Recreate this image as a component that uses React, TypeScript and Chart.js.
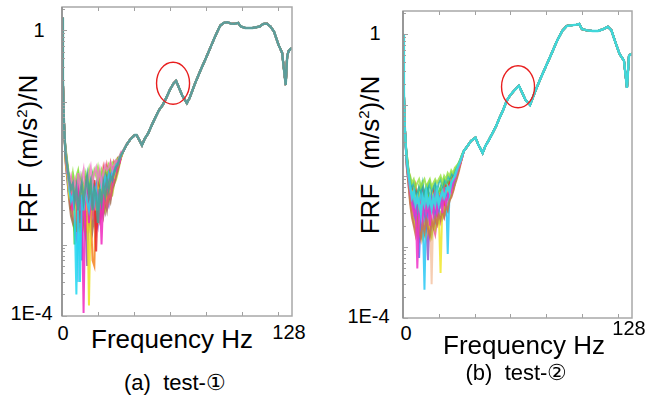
import React, { useEffect, useRef } from "react";
import { Chart, registerables } from "chart.js";

Chart.register(...registerables);

// ---------- data ----------
const HEAD_F = [0, 0.5, 1, 1.5];
const NOISE_F = [2, 3, 4, 5, 6, 7, 8, 9, 10, 11, 12, 13, 14, 15, 16, 17, 18, 19, 20, 21, 22, 23, 24, 25, 26, 27, 28, 29, 30, 31, 32, 33];

const HEAD_A = [1.5, 0.2, 0.06, 0.03];
const HEAD_B = [1.0, 0.15, 0.05, 0.028];

const TAIL_F_A = [34, 36, 38, 40.5, 41.5, 43, 44.5, 46, 48, 50, 52, 54, 56, 58, 60, 62, 63.5, 65, 67, 69.5, 71, 74, 77, 80, 83, 85, 88, 90, 92, 94, 96, 98, 99.5, 102, 106, 110, 112, 114, 116, 118, 120.5, 122.5, 124.5, 125.3, 126, 127, 128];
const TAIL_A = [0.020, 0.025, 0.0295, 0.034, 0.034, 0.029, 0.0245, 0.030, 0.036, 0.047, 0.060, 0.076, 0.089, 0.112, 0.145, 0.178, 0.195, 0.158, 0.120, 0.095, 0.112, 0.178, 0.27, 0.40, 0.60, 0.79, 1.15, 1.26, 1.29, 1.23, 1.22, 1.26, 1.12, 1.07, 1.07, 1.12, 1.22, 1.23, 1.12, 0.95, 0.62, 0.48, 0.17, 0.42, 0.50, 0.54, 0.56];

const TAIL_F_B = [34, 36, 38, 40.5, 42, 44.5, 46, 48, 50, 52, 54, 56, 58, 60, 62, 64.8, 66.5, 68.5, 71, 74, 77, 80, 83, 86, 89, 91.5, 94, 97, 98.5, 100, 103, 106, 109, 112, 114.5, 116.5, 118.5, 121, 123.5, 125.2, 126.3, 127, 128];
const TAIL_B = [0.0224, 0.0263, 0.031, 0.0347, 0.028, 0.021, 0.0263, 0.032, 0.040, 0.050, 0.066, 0.085, 0.115, 0.138, 0.158, 0.186, 0.151, 0.117, 0.100, 0.158, 0.24, 0.355, 0.525, 0.79, 1.10, 1.29, 1.32, 1.35, 1.38, 1.17, 1.12, 1.10, 1.10, 1.17, 1.26, 1.12, 0.79, 0.525, 0.42, 0.174, 0.49, 0.51, 0.525];

// test-1 low-frequency scatter (f = 2..33 Hz), one array per measurement
const A_TEAL = [1.8e-2, 1.2e-2, 8e-3, 6e-3, 7e-3, 4e-3, 6e-3, 3e-3, 5e-3, 7e-3, 4e-3, 6e-3, 9e-3, 5e-3, 7e-3, 3e-3, 6e-3, 5e-3, 2e-3, 6e-3, 4e-3, 7e-3, 5e-3, 8e-3, 6e-3, 9e-3, 8e-3, 1.0e-2, 1.2e-2, 1.3e-2, 1.6e-2, 1.8e-2];
const A_CYAN = [2.0e-2, 1.2e-2, 6e-3, 4e-3, 5e-3, 3e-3, 2e-4, 4e-3, 3e-4, 5e-3, 3e-3, 6e-3, 4e-3, 3e-3, 5e-3, 7e-3, 4e-3, 6e-3, 3e-3, 5e-3, 8e-3, 6e-3, 9e-3, 7e-3, 1.0e-2, 8e-3, 1.1e-2, 1.0e-2, 1.3e-2, 1.4e-2, 1.6e-2, 1.8e-2];
const A_MAGENTA = [1.8e-2, 1.0e-2, 8e-3, 5e-3, 3e-3, 6e-3, 4e-3, 7e-3, 3e-3, 5e-3, 1.1e-4, 4e-3, 6e-3, 2e-3, 4e-3, 5e-3, 3e-3, 7e-3, 4e-3, 6e-3, 1.0e-3, 5e-3, 8e-3, 6e-3, 9e-3, 1.1e-2, 8e-3, 1.2e-2, 1.1e-2, 1.5e-2, 1.4e-2, 1.8e-2];
const A_YELLOW = [1.5e-2, 9e-3, 5e-3, 7e-3, 4e-3, 2.5e-3, 5e-3, 3e-3, 6e-3, 4e-3, 7e-3, 3e-3, 5e-3, 1.4e-4, 4e-3, 6e-3, 5e-3, 3e-3, 6e-3, 4e-3, 7e-3, 5e-3, 6e-3, 8e-3, 7e-3, 9e-3, 1.0e-2, 9e-3, 1.2e-2, 1.3e-2, 1.5e-2, 1.7e-2];
const A_RED = [2.2e-2, 1.3e-2, 7e-3, 4e-3, 6e-3, 3.5e-3, 8e-3, 5e-3, 2e-3, 7e-3, 4e-3, 9e-3, 5e-3, 3e-3, 6e-3, 4e-3, 8e-3, 8e-4, 5e-3, 9e-3, 6e-3, 1.1e-2, 7e-3, 1.2e-2, 8e-3, 1.3e-2, 9e-3, 1.4e-2, 1.2e-2, 1.6e-2, 1.5e-2, 1.9e-2];
const A_GREEN = [1.9e-2, 1.1e-2, 9e-3, 6e-3, 8e-3, 1.0e-3, 6e-3, 9e-3, 5e-3, 3e-3, 6e-3, 8e-3, 4e-3, 7e-3, 5e-3, 9e-3, 6e-3, 4e-3, 8e-3, 5e-3, 9e-3, 7e-3, 1.0e-2, 6e-3, 1.1e-2, 9e-3, 1.2e-2, 1.1e-2, 1.4e-2, 1.3e-2, 1.7e-2, 1.9e-2];
const A_ORANGE = [1.7e-2, 1.0e-2, 6e-3, 3e-3, 5e-3, 7e-3, 4e-3, 2.5e-3, 6e-3, 3.5e-3, 5e-3, 2e-3, 6e-3, 4e-3, 3e-3, 6e-4, 5e-4, 6e-3, 3e-3, 7e-3, 4e-3, 6e-3, 3.5e-3, 8e-3, 5e-3, 7e-3, 9e-3, 8e-3, 1.1e-2, 1.2e-2, 1.4e-2, 1.7e-2];
const A_BLUE = [2.1e-2, 1.2e-2, 8e-3, 5e-3, 3e-3, 5e-3, 7e-3, 4e-3, 6e-3, 6e-4, 5e-3, 7e-3, 3e-3, 6e-3, 8e-3, 4e-3, 6e-3, 5e-3, 7e-3, 3.5e-3, 6e-3, 8e-3, 5e-3, 9e-3, 6e-3, 1.0e-2, 8e-3, 1.1e-2, 1.3e-2, 1.2e-2, 1.6e-2, 1.8e-2];
const A_PURPLE = [1.6e-2, 1.1e-2, 7e-3, 8e-3, 4e-3, 6e-3, 3e-3, 5e-3, 8e-3, 4e-3, 6e-3, 3e-3, 5e-4, 5e-3, 7e-3, 3e-3, 5e-3, 7e-3, 4e-3, 6e-3, 5e-3, 3e-3, 7e-3, 5e-3, 8e-3, 6e-3, 1.0e-2, 1.2e-2, 1.0e-2, 1.4e-2, 1.5e-2, 1.8e-2];
const A_LIME = [2.3e-2, 1.4e-2, 9e-3, 7e-3, 1.0e-2, 6e-3, 9e-3, 1.1e-2, 7e-3, 9e-3, 5e-3, 1.0e-2, 8e-3, 1.1e-2, 6e-3, 8e-3, 1.1e-2, 9e-3, 1.2e-2, 8e-3, 1.1e-2, 9e-3, 1.2e-2, 1.0e-2, 1.3e-2, 1.1e-2, 1.4e-2, 1.3e-2, 1.5e-2, 1.6e-2, 1.7e-2, 1.9e-2];
const A_PINK = [2.0e-2, 1.1e-2, 7e-3, 9e-3, 6e-3, 8e-3, 5e-3, 1.0e-2, 6e-3, 8e-3, 1.1e-2, 5e-3, 7e-3, 9e-3, 1.2e-2, 7e-3, 1.0e-2, 1.2e-2, 8e-3, 1.1e-2, 7e-3, 1.0e-2, 1.3e-2, 1.1e-2, 1.2e-2, 1.4e-2, 1.1e-2, 1.3e-2, 1.5e-2, 1.4e-2, 1.7e-2, 2.0e-2];
const A_SKY = [1.7e-2, 1.0e-2, 5e-3, 4e-3, 6e-3, 3e-3, 2.5e-3, 3e-4, 4e-3, 5e-3, 3e-3, 5e-3, 3.5e-3, 6e-3, 4e-3, 5e-3, 3e-3, 4.5e-3, 6e-3, 3e-3, 5e-3, 4e-3, 6e-3, 4e-3, 7e-3, 6e-3, 8e-3, 9e-3, 1.1e-2, 1.2e-2, 1.5e-2, 1.8e-2];
const A_BROWN = [1.4e-2, 8e-3, 4e-3, 2.5e-3, 2e-3, 3e-3, 1.5e-3, 2.5e-3, 1.8e-3, 3e-3, 2e-3, 1.4e-3, 2.5e-3, 2e-3, 3e-3, 1.6e-3, 2.5e-3, 2e-3, 3e-3, 2.2e-3, 3.5e-3, 2.5e-3, 4e-3, 3e-3, 5e-3, 4e-3, 6e-3, 7e-3, 9e-3, 1.1e-2, 1.4e-2, 1.7e-2];
const A_OLIVE = [1.6e-2, 9e-3, 5e-3, 3e-3, 2.2e-3, 1.6e-3, 2.8e-3, 2e-3, 1.5e-3, 2.5e-3, 1.8e-3, 3e-3, 2.2e-3, 1.7e-3, 2.6e-3, 3.2e-3, 2e-3, 2.8e-3, 2.2e-3, 3.5e-3, 2.6e-3, 4e-3, 3e-3, 4.5e-3, 4e-3, 5.5e-3, 5e-3, 7e-3, 8e-3, 1.0e-2, 1.3e-2, 1.7e-2];
const A_VIOLET = [1.5e-2, 8e-3, 4.5e-3, 3.5e-3, 2.5e-3, 2e-3, 1.3e-3, 2.2e-3, 2.8e-3, 1.6e-3, 2.4e-3, 1.9e-3, 2.8e-3, 2.2e-3, 1.5e-3, 2.6e-3, 3.2e-3, 2.4e-3, 1.8e-3, 3e-3, 2.5e-3, 3.5e-3, 2.8e-3, 4.2e-3, 3.5e-3, 5e-3, 6e-3, 7.5e-3, 9e-3, 1.1e-2, 1.4e-2, 1.7e-2];
const A_ROSE = [1.7e-2, 1.0e-2, 6e-3, 3.5e-3, 2.8e-3, 2e-3, 3e-3, 1.8e-3, 2.5e-3, 2e-3, 3.2e-3, 2.3e-3, 1.7e-3, 2.8e-3, 2.1e-3, 3e-3, 2.4e-3, 1.6e-3, 2.8e-3, 2.2e-3, 3.4e-3, 2.9e-3, 4.5e-3, 3.5e-3, 5e-3, 4.5e-3, 6.5e-3, 8e-3, 1.0e-2, 1.2e-2, 1.5e-2, 1.8e-2];

// test-2 low-frequency scatter (f = 2..33 Hz)
const B_CYAN = [1.8e-2, 1.1e-2, 7e-3, 5e-3, 6e-3, 4e-3, 5e-3, 4e-3, 3e-3, 5e-3, 4e-3, 6e-3, 4e-3, 5e-3, 3.5e-3, 5e-3, 4e-3, 6e-3, 4e-3, 5e-3, 6e-3, 5e-3, 6e-3, 7e-3, 6e-3, 8e-3, 9e-3, 1.0e-2, 1.2e-2, 1.4e-2, 1.6e-2, 1.9e-2];
const B_MAGENTA = [1.8e-2, 1.0e-2, 6e-3, 4e-3, 3e-3, 5e-3, 5e-4, 3e-3, 4e-3, 2.5e-3, 5e-3, 3e-3, 4e-3, 2e-3, 4e-3, 3e-3, 5e-3, 3e-3, 4e-3, 5e-3, 3e-3, 6e-3, 4e-3, 5e-3, 7e-3, 6e-3, 8e-3, 9e-3, 1.1e-2, 1.3e-2, 1.5e-2, 1.8e-2];
const B_BLUE = [1.6e-2, 9e-3, 7e-3, 5e-3, 3.5e-3, 2.5e-3, 4e-3, 7e-4, 3e-3, 5e-3, 3e-3, 2e-3, 4e-3, 3e-3, 5e-3, 3.5e-3, 2.5e-3, 4e-3, 3e-3, 5e-3, 4e-3, 5e-3, 6e-3, 5e-3, 6e-3, 8e-3, 7e-3, 1.0e-2, 1.2e-2, 1.3e-2, 1.6e-2, 1.9e-2];
const B_AQUA = [2.0e-2, 1.1e-2, 8e-3, 5e-3, 6e-3, 3e-3, 5e-3, 4e-3, 6e-3, 3e-3, 2.5e-4, 4e-3, 3e-3, 5e-3, 3.5e-3, 4e-3, 6e-3, 3e-3, 5e-3, 4e-3, 6e-3, 5e-3, 7e-3, 8e-4, 6e-3, 8e-3, 9e-3, 8e-3, 1.1e-2, 1.4e-2, 1.6e-2, 1.9e-2];
const B_YELLOW = [1.7e-2, 1.0e-2, 7e-3, 6e-3, 4e-3, 5e-3, 3e-3, 6e-3, 4e-3, 5e-3, 3e-3, 5e-3, 4e-3, 3e-3, 6e-3, 4e-3, 3.5e-3, 5e-3, 3e-3, 4.3e-4, 4e-3, 6e-3, 5e-3, 7e-3, 6e-3, 7e-3, 9e-3, 1.0e-2, 1.2e-2, 1.3e-2, 1.5e-2, 1.8e-2];
const B_RED = [1.9e-2, 1.2e-2, 9e-3, 6e-3, 5e-3, 7e-3, 4e-3, 5e-3, 3e-3, 6e-3, 4e-3, 6e-3, 3e-3, 5e-3, 4e-3, 6e-3, 4e-3, 2.5e-3, 5e-3, 4e-3, 6e-3, 4e-3, 7e-3, 6e-3, 8e-3, 7e-3, 1.0e-2, 9e-3, 1.2e-2, 1.4e-2, 1.5e-2, 1.9e-2];
const B_GREEN = [2.1e-2, 1.3e-2, 8e-3, 7e-3, 6e-3, 4e-3, 6e-3, 5e-3, 7e-3, 4e-3, 6e-3, 5e-3, 7e-3, 4e-3, 6e-3, 5e-3, 7e-3, 5e-3, 6e-3, 7e-3, 5e-3, 8e-3, 6e-3, 8e-3, 9e-3, 1.0e-2, 9e-3, 1.1e-2, 1.3e-2, 1.4e-2, 1.7e-2, 1.9e-2];
const B_PURPLE = [1.7e-2, 1.0e-2, 7e-3, 4e-3, 5e-3, 3e-3, 4e-3, 3e-3, 5e-3, 3e-3, 4e-3, 2e-3, 6.5e-4, 3.5e-3, 5e-3, 3e-3, 4e-3, 5e-3, 3.5e-3, 5e-3, 4e-3, 5e-3, 6e-3, 5e-3, 7e-3, 6e-3, 8e-3, 1.0e-2, 1.1e-2, 1.3e-2, 1.6e-2, 1.8e-2];
const B_ORANGE = [2.2e-2, 1.2e-2, 8e-3, 6e-3, 7e-3, 5e-3, 3e-3, 6e-3, 4e-3, 7e-3, 5e-3, 3e-3, 6e-3, 4e-3, 5e-3, 3e-3, 6e-3, 4e-3, 5e-3, 6e-3, 4e-3, 7e-3, 5e-3, 8e-3, 7e-3, 9e-3, 8e-3, 1.1e-2, 1.2e-2, 1.4e-2, 1.6e-2, 2.0e-2];
const B_PEACH = [1.5e-2, 9e-3, 6e-3, 5e-3, 4e-3, 6e-3, 3e-3, 5e-3, 4e-3, 3e-3, 5e-3, 4e-3, 3e-3, 5e-3, 3e-4, 4e-3, 5e-3, 3.5e-3, 4.5e-3, 5e-3, 4e-3, 6e-3, 5e-3, 6e-3, 8e-3, 7e-3, 8e-3, 1.0e-2, 1.1e-2, 1.3e-2, 1.5e-2, 1.8e-2];
const B_TEAL = [1.9e-2, 1.1e-2, 9e-3, 7e-3, 8e-3, 6e-3, 5e-3, 7e-3, 6e-3, 8e-3, 5e-3, 7e-3, 6e-3, 8e-3, 6e-3, 7e-3, 8e-3, 6e-3, 8e-3, 9e-3, 7e-3, 9e-3, 8e-3, 1.0e-2, 9e-3, 1.1e-2, 1.0e-2, 1.2e-2, 1.3e-2, 1.5e-2, 1.7e-2, 2.0e-2];
const B_LIME = [2.0e-2, 1.2e-2, 1.0e-2, 8e-3, 9e-3, 7e-3, 8e-3, 9e-3, 7e-3, 8e-3, 9e-3, 7e-3, 8e-3, 9e-3, 7e-3, 8e-3, 9e-3, 8e-3, 9e-3, 1.0e-2, 8e-3, 1.0e-2, 9e-3, 1.1e-2, 1.0e-2, 1.2e-2, 1.1e-2, 1.3e-2, 1.4e-2, 1.5e-2, 1.7e-2, 2.0e-2];
const B_BROWN = [1.5e-2, 8e-3, 4e-3, 2.6e-3, 2e-3, 1.5e-3, 2.4e-3, 1.7e-3, 1.3e-3, 2.2e-3, 1.6e-3, 2.5e-3, 1.8e-3, 1.4e-3, 2.3e-3, 1.9e-3, 2.6e-3, 2.1e-3, 2.8e-3, 2.4e-3, 3.2e-3, 2.7e-3, 3.8e-3, 3.3e-3, 4.5e-3, 5e-3, 6e-3, 7.5e-3, 9e-3, 1.1e-2, 1.4e-2, 1.8e-2];
const B_OLIVE = [1.6e-2, 9e-3, 5e-3, 3e-3, 2.4e-3, 1.8e-3, 1.4e-3, 2.2e-3, 1.6e-3, 1.3e-3, 2e-3, 1.5e-3, 2.3e-3, 1.7e-3, 1.4e-3, 2.2e-3, 1.8e-3, 2.5e-3, 2.2e-3, 3e-3, 2.6e-3, 3.5e-3, 3e-3, 4e-3, 4.5e-3, 5.5e-3, 6.5e-3, 8e-3, 1.0e-2, 1.2e-2, 1.5e-2, 1.8e-2];
const B_VIOLET = [1.4e-2, 8e-3, 4.5e-3, 3.2e-3, 2.2e-3, 2.8e-3, 1.6e-3, 1.3e-3, 2e-3, 1.5e-3, 2.4e-3, 1.7e-3, 1.3e-3, 2.1e-3, 1.6e-3, 2.4e-3, 1.9e-3, 2.7e-3, 2.2e-3, 2.9e-3, 2.5e-3, 3.3e-3, 2.9e-3, 4e-3, 4.8e-3, 5.2e-3, 7e-3, 8.5e-3, 1.0e-2, 1.2e-2, 1.5e-2, 1.8e-2];
const B_ROSE = [1.7e-2, 1.0e-2, 5.5e-3, 3.8e-3, 2.6e-3, 2e-3, 2.8e-3, 1.9e-3, 1.5e-3, 2.4e-3, 1.8e-3, 1.4e-3, 2.2e-3, 1.6e-3, 2.5e-3, 1.9e-3, 1.5e-3, 2.3e-3, 2.6e-3, 2.2e-3, 3.1e-3, 2.6e-3, 3.6e-3, 3.2e-3, 4.6e-3, 5.5e-3, 6.2e-3, 8e-3, 9.5e-3, 1.2e-2, 1.5e-2, 1.8e-2];

// first entry is drawn on top
const SERIES_A = [
  { v: A_TEAL, c: "rgba(70,160,150,0.85)" },
  { v: A_PINK, c: "rgba(240,120,200,0.8)" },
  { v: A_LIME, c: "rgba(140,225,60,0.8)" },
  { v: A_CYAN, c: "rgba(30,215,240,0.85)" },
  { v: A_MAGENTA, c: "rgba(240,40,190,0.85)" },
  { v: A_YELLOW, c: "rgba(235,225,30,0.85)" },
  { v: A_RED, c: "rgba(230,40,40,0.85)" },
  { v: A_ROSE, c: "rgba(235,80,120,0.85)" },
  { v: A_GREEN, c: "rgba(50,205,60,0.85)" },
  { v: A_BROWN, c: "rgba(165,115,85,0.85)" },
  { v: A_ORANGE, c: "rgba(245,130,30,0.85)" },
  { v: A_OLIVE, c: "rgba(190,200,50,0.85)" },
  { v: A_BLUE, c: "rgba(70,120,240,0.85)" },
  { v: A_VIOLET, c: "rgba(175,95,225,0.85)" },
  { v: A_PURPLE, c: "rgba(145,85,175,0.85)" },
  { v: A_SKY, c: "rgba(100,200,250,0.85)" },
];
const SERIES_B = [
  { v: B_CYAN, c: "rgba(60,215,225,0.95)" },
  { v: B_LIME, c: "rgba(150,225,60,0.8)" },
  { v: B_TEAL, c: "rgba(40,180,170,0.85)" },
  { v: B_MAGENTA, c: "rgba(240,50,200,0.85)" },
  { v: B_BROWN, c: "rgba(200,120,70,0.85)" },
  { v: B_BLUE, c: "rgba(90,110,240,0.85)" },
  { v: B_AQUA, c: "rgba(40,200,245,0.85)" },
  { v: B_OLIVE, c: "rgba(200,200,50,0.85)" },
  { v: B_YELLOW, c: "rgba(240,230,40,0.85)" },
  { v: B_RED, c: "rgba(230,50,40,0.85)" },
  { v: B_ROSE, c: "rgba(240,90,150,0.85)" },
  { v: B_GREEN, c: "rgba(60,210,70,0.85)" },
  { v: B_VIOLET, c: "rgba(160,100,230,0.85)" },
  { v: B_PURPLE, c: "rgba(150,90,200,0.85)" },
  { v: B_ORANGE, c: "rgba(245,140,30,0.85)" },
  { v: B_PEACH, c: "rgba(245,200,170,0.9)" },
];

const X_MIN = 0;
const X_MAX = 128;
const Y_MIN = 1e-4;
const Y_MAX = 2.1;
const X_TICKS = [20, 40, 60, 80, 100, 120];
const Y_DECADES = [1e-4, 1e-3, 1e-2, 1e-1, 1];
const Y_MULTS = [1, 2, 3, 4, 5, 6, 7, 8, 9];
const Y_TICK_LABELS = ["1", "1E-4"];
const X_TICK_LABELS = ["0", "128"];
const X_TITLE = "Frequency Hz";
const CAPTIONS = ["(a)  test-\u2460", "(b)  test-\u2461"];
// circled peak (frequency Hz, FRF value)
const MARK_A = { f: 61.8, v: 0.18 };
const MARK_B = { f: 64.3, v: 0.18 };

const FONT = '"Liberation Sans", Arial, Helvetica, sans-serif';

function buildDatasets(series: { v: number[]; c: string }[], head: number[], tailF: number[], tail: number[]) {
  return series.map((s, k) => ({
    data: [
      ...HEAD_F.map((f, i) => ({ x: f, y: head[i] })),
      ...NOISE_F.map((f, i) => ({ x: f, y: s.v[i] })),
      ...tailF.map((f, i) => ({ x: f, y: tail[i] })),
    ],
    borderColor: s.c,
    borderWidth: k === 0 ? 2.4 : 2,
    pointRadius: 0,
    tension: 0,
    fill: false,
  }));
}

const framePlugin = (mark: { f: number; v: number }) => ({
  id: "frameMarks",
  afterDatasetsDraw(chart: any) {
    const { ctx, chartArea: a, scales } = chart;
    const xs = scales.x;
    const ys = scales.y;
    ctx.save();
    ctx.strokeStyle = "#a0a0a0";
    ctx.lineWidth = 1;
    ctx.beginPath();
    X_TICKS.forEach((t) => {
      const px = Math.round(xs.getPixelForValue(t)) + 0.5;
      ctx.moveTo(px, a.top);
      ctx.lineTo(px, a.top + 4);
      ctx.moveTo(px, a.bottom);
      ctx.lineTo(px, a.bottom - 4);
    });
    Y_DECADES.forEach((d) => {
      Y_MULTS.forEach((m) => {
        const val = d * m;
        if (val > Y_MAX || val < Y_MIN) return;
        const py = Math.round(ys.getPixelForValue(val)) + 0.5;
        const len = m === 1 ? 5 : 3;
        ctx.moveTo(a.left, py);
        ctx.lineTo(a.left + len, py);
      });
    });
    ctx.stroke();
    ctx.lineWidth = 1.5;
    ctx.strokeStyle = "#a8a8a8";
    ctx.strokeRect(a.left, a.top, a.right - a.left, a.bottom - a.top);
    ctx.strokeStyle = "#8c8c8c";
    ctx.beginPath();
    ctx.moveTo(a.left, a.top);
    ctx.lineTo(a.left, a.bottom);
    ctx.stroke();
    const cx = xs.getPixelForValue(mark.f);
    const cy = ys.getPixelForValue(mark.v);
    ctx.strokeStyle = "#e81e1e";
    ctx.lineWidth = 1.4;
    ctx.beginPath();
    ctx.ellipse(cx, cy, 16.5, 21, 0, 0, Math.PI * 2);
    ctx.stroke();
    ctx.restore();
  },
});

function Panel(props: {
  left: number;
  top: number;
  width: number;
  height: number;
  series: { v: number[]; c: string }[];
  head: number[];
  tailF: number[];
  tail: number[];
  mark: { f: number; v: number };
}) {
  const ref = useRef<HTMLCanvasElement>(null);
  useEffect(() => {
    if (!ref.current) return;
    const chart = new Chart(ref.current, {
      type: "line",
      data: { datasets: buildDatasets(props.series, props.head, props.tailF, props.tail) as any },
      options: {
        animation: false,
        responsive: false,
        maintainAspectRatio: false,
        layout: { padding: 2 },
        plugins: { legend: { display: false }, tooltip: { enabled: false }, title: { display: false } },
        scales: {
          x: { type: "linear", min: X_MIN, max: X_MAX, display: false },
          y: { type: "logarithmic", min: Y_MIN, max: Y_MAX, display: false },
        },
      },
      plugins: [framePlugin(props.mark)],
    });
    return () => chart.destroy();
  }, []);
  return (
    <canvas
      ref={ref}
      width={props.width}
      height={props.height}
      style={{ position: "absolute", left: props.left, top: props.top, width: props.width, height: props.height }}
    />
  );
}

function Txt(props: { x: number; y: number; size: number; rotate?: boolean; children: any }) {
  return (
    <div
      style={{
        position: "absolute",
        left: props.x,
        top: props.y,
        fontFamily: FONT,
        fontSize: props.size,
        lineHeight: 1,
        whiteSpace: "pre",
        color: "#000",
        transform: `translate(-50%,-50%)${props.rotate ? " rotate(-90deg)" : ""}`,
      }}
    >
      {props.children}
    </div>
  );
}

function YTitle(props: { x: number; y: number }) {
  return (
    <Txt x={props.x} y={props.y} size={26} rotate>
      {"FRF  (m/s"}<span style={{ fontSize: 15, position: "relative", top: -10 }}>2</span>{")/N"}
    </Txt>
  );
}

export default function App() {
  return (
    <div style={{ position: "fixed", left: 0, top: 0, width: 662, height: 401, background: "#fff", overflow: "hidden" }}>
      <Panel left={60} top={5} width={234} height={313} series={SERIES_A} head={HEAD_A} tailF={TAIL_F_A} tail={TAIL_A} mark={MARK_A} />
      <Panel left={401} top={9} width={233} height={311} series={SERIES_B} head={HEAD_B} tailF={TAIL_F_B} tail={TAIL_B} mark={MARK_B} />

      <Txt x={39} y={30} size={20}>{Y_TICK_LABELS[0]}</Txt>
      <Txt x={31.5} y={313} size={20}>{Y_TICK_LABELS[1]}</Txt>
      <Txt x={63} y={333} size={20}>{X_TICK_LABELS[0]}</Txt>
      <Txt x={289} y={332} size={20}>{X_TICK_LABELS[1]}</Txt>
      <Txt x={172} y={339} size={26}>{X_TITLE}</Txt>
      <YTitle x={28} y={154} />
      <Txt x={175} y={383} size={22}>{CAPTIONS[0]}</Txt>

      <Txt x={375} y={33} size={20}>{Y_TICK_LABELS[0]}</Txt>
      <Txt x={368.5} y={316} size={20}>{Y_TICK_LABELS[1]}</Txt>
      <Txt x={406} y={333} size={20}>{X_TICK_LABELS[0]}</Txt>
      <Txt x={629} y={328} size={20}>{X_TICK_LABELS[1]}</Txt>
      <Txt x={524} y={345} size={26}>{X_TITLE}</Txt>
      <YTitle x={370} y={155} />
      <Txt x={516.5} y={373} size={22}>{CAPTIONS[1]}</Txt>
    </div>
  );
}
